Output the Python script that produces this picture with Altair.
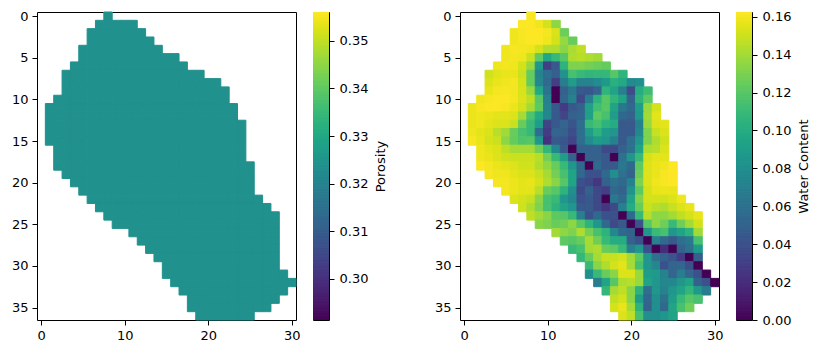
import altair as alt
import numpy as np
import pandas as pd

ROW_START = [8,7,6,6,5,5,4,3,3,3,2,1,1,1,1,1,2,2,2,3,4,5,6,7,8,9,11,12,13,14,15,15,16,17,18,18,19]

R00 = [.161]
R01 = [.162,.162,.159,.152,.135]
R02 = [.159,.161,.1625,.1625,.16,.153,.126]
R03 = [.159,.161,.162,.162,.159,.152,.137,.125]
R04 = [.159,.161,.16,.159,.152,.144,.143,.134,.142,.147]
R05 = [.159,.16,.159,.15,.123,.097,.11,.12,.143,.145,.143,.14]
R06 = [.159,.16,.159,.152,.138,.085,.03,.045,.105,.131,.131,.128,.126,.124]
R07 = [.151,.155,.157,.157,.15,.124,.072,.058,.048,.082,.115,.11,.107,.108,.108,.12,.106]
R08 = [.154,.157,.159,.16,.152,.124,.075,.056,.03,.068,.09,.072,.072,.078,.088,.103,.098,.077,.08]
R09 = [.157,.16,.161,.16,.153,.138,.098,.062,0,.05,.065,.045,.043,.052,.106,.095,.07,.037,.1,.112]
R10 = [.159,.161,.162,.162,.16,.154,.147,.12,.07,0,.052,.07,.035,.068,.105,.12,.107,.095,.05,.105,.122]
R11 = [.158,.161,.162,.162,.161,.158,.152,.141,.122,.073,.045,.028,.045,.05,.093,.113,.12,.095,.065,.055,.09,.138,.152]
R12 = [.158,.159,.158,.156,.156,.154,.141,.117,.098,.075,.045,.033,.05,.052,.092,.122,.115,.09,.055,.05,.088,.14,.156]
R13 = [.158,.159,.156,.154,.154,.149,.125,.11,.09,.032,.045,.052,.042,.058,.11,.115,.105,.1,.045,.045,.07,.138,.154,.156]
R14 = [.159,.156,.154,.145,.14,.125,.115,.11,.058,.028,.052,.05,.038,.058,.09,.105,.09,.085,.045,.045,.075,.131,.149,.154]
R15 = [.161,.157,.152,.15,.135,.124,.118,.12,.085,.022,.045,.043,.033,.058,.078,.09,.085,.07,.045,.06,.085,.131,.143,.151]
R16 = [.159,.156,.154,.147,.141,.141,.141,.127,.108,.075,.045,0,.05,.05,.05,.035,.035,.05,.06,.095,.143,.145,.154]
R17 = [.159,.157,.154,.151,.15,.15,.15,.145,.128,.11,.09,.05,0,.05,.05,.045,0,.06,.085,.11,.152,.156,.156]
R18 = [.162,.16,.158,.156,.154,.151,.151,.143,.135,.125,.11,.085,.055,0,.055,.045,.045,.065,.055,.122,.154,.157,.159,.1625]
R19 = [.161,.159,.159,.156,.154,.154,.149,.141,.128,.115,.095,.055,.04,.04,.055,.08,.06,.05,.125,.154,.157,.161,.1625]
R20 = [.16,.16,.158,.156,.157,.152,.143,.134,.12,.095,.04,.035,.025,.05,.06,.055,.07,.131,.154,.159,.161,.1625]
R21 = [.16,.158,.156,.156,.145,.125,.12,.105,.08,.035,.05,.035,.03,.055,.05,.082,.122,.152,.157,.158,.157]
R22 = [.154,.152,.149,.134,.115,.11,.085,.075,.04,.045,.035,0,.065,.055,.095,.131,.152,.152,.151,.154,.159]
R23 = [.151,.143,.131,.115,.105,.095,.085,.045,.045,.035,.025,.035,.07,.1,.125,.15,.145,.143,.149,.154,.157]
R24 = [.147,.14,.134,.122,.12,.11,.07,.04,.055,.04,.04,0,.055,.11,.145,.135,.135,.14,.147,.152,.157]
R25 = [.134,.131,.125,.127,.135,.12,.105,.085,.055,.035,.045,0,.04,.12,.135,.127,.11,.127,.14,.151]
R26 = [.14,.135,.131,.143,.128,.115,.105,.075,.055,.05,0,.085,.11,.115,.085,.095,.105,.14]
R27 = [.122,.12,.125,.141,.127,.11,.1,.1,.05,.04,0,.07,.055,.045,.058,.065,.115]
R28 = [.11,.115,.14,.143,.125,.122,.11,.07,.085,.04,0,.02,0,.05,.06,.088]
R29 = [.108,.125,.141,.149,.149,.152,.14,.122,.085,.06,.05,.042,.028,0,.048]
R30 = [.11,.134,.143,.152,.156,.141,.115,.085,.075,.04,.053,.053,.04,0]
R31 = [.08,.11,.125,.134,.154,.154,.138,.09,.088,.072,.052,.068,.052,.04,0]
R32 = [.068,.095,.12,.143,.145,.138,.095,.085,.075,.075,.085,.095,.05,.04,0]
R33 = [.108,.141,.147,.134,.105,.058,.085,.072,.085,.095,.107,.088,.067]
R34 = [.147,.152,.134,.09,.053,.08,.06,.09,.11,.12,.115]
R35 = [.152,.157,.141,.105,.05,.08,.055,.095,.115,.127]
R36 = [.154,.147,.115,.08,.08,.085,.095]

WATER = [R00,R01,R02,R03,R04,R05,R06,R07,R08,R09,R10,R11,R12,R13,R14,R15,R16,R17,R18,
         R19,R20,R21,R22,R23,R24,R25,R26,R27,R28,R29,R30,R31,R32,R33,R34,R35,R36]
POROSITY_VALUE = 0.3237
POROSITY_DOMAIN = [0.29133, 0.35607]
WATER_DOMAIN = [0.0, 0.1625]
X_TICKS = [0, 10, 20, 30]
Y_TICKS = [0, 5, 10, 15, 20, 25, 30, 35]
POROSITY_TICKS = [0.30, 0.31, 0.32, 0.33, 0.34, 0.35]
WATER_TICKS = [0.00, 0.02, 0.04, 0.06, 0.08, 0.10, 0.12, 0.14, 0.16]

recs = []
for r, vals in enumerate(WATER):
    for i, v in enumerate(vals):
        recs.append(dict(col=ROW_START[r] + i, row=r, water=v, porosity=POROSITY_VALUE))
df = pd.DataFrame(recs)

FONT = "DejaVu Sans"
FS = 13
W, H = 259, 308
CBW = 16
GAP = 17
SPACER = 97


def heat(field, domain):
    scale = alt.Scale(scheme="viridis", domain=domain)
    return (
        alt.Chart(df)
        .transform_calculate(x0="datum.col-0.5", x1="datum.col+0.5", y0="datum.row-0.5", y1="datum.row+0.5")
        .mark_rect(strokeWidth=1, opacity=1)
        .encode(
            x=alt.X("x0:Q", title=None, scale=alt.Scale(domain=[-0.5, 30.5], nice=False, zero=False),
                    axis=alt.Axis(values=X_TICKS, grid=False, domain=False, tickColor="black", format="d",
                                  tickSize=5, labelPadding=4, labelFont=FONT, labelFontSize=FS,
                                  labelColor="black", labelFlush=False, labelOverlap=False)),
            x2="x1:Q",
            y=alt.Y("y0:Q", title=None, scale=alt.Scale(domain=[36.5, -0.5], nice=False, zero=False),
                    axis=alt.Axis(values=Y_TICKS, grid=False, domain=False, tickColor="black", format="d",
                                  tickSize=5, labelPadding=4, labelFont=FONT, labelFontSize=FS,
                                  labelColor="black", labelOverlap=False)),
            y2="y1:Q",
            color=alt.Color(f"{field}:Q", scale=scale, legend=None),
            stroke=alt.Stroke(f"{field}:Q", scale=scale, legend=None),
        )
        .properties(width=W, height=H)
    )


def cbar(domain, ticks, title, fmt):
    scale = alt.Scale(scheme="viridis", domain=domain)
    vals = np.linspace(domain[0], domain[1], 257)
    bar = pd.DataFrame({"lo": vals[:-1], "hi": vals[1:], "mid": (vals[:-1] + vals[1:]) / 2})
    return (
        alt.Chart(bar)
        .mark_rect(strokeWidth=1, clip=True, opacity=1)
        .encode(
            x=alt.value(0),
            x2=alt.value(CBW),
            y=alt.Y("lo:Q", title=title, scale=alt.Scale(domain=domain, nice=False, zero=False),
                    axis=alt.Axis(orient="right", values=ticks, format=fmt, grid=False, domain=False,
                                  tickColor="black", tickSize=5, labelPadding=5, labelFont=FONT,
                                  labelFontSize=FS, labelColor="black", labelOverlap=False,
                                  titleFont=FONT, titleFontSize=FS, titleFontWeight="normal",
                                  titleColor="black", titleAngle=270, titleBaseline="top", titlePadding=7)),
            y2="hi:Q",
            color=alt.Color("mid:Q", scale=scale, legend=None),
            stroke=alt.Stroke("mid:Q", scale=scale, legend=None),
        )
        .properties(width=CBW, height=H)
    )


spacer = (
    alt.Chart(pd.DataFrame({"a": [0]}))
    .mark_point(opacity=0)
    .encode(x=alt.value(0), y=alt.value(0))
    .properties(width=SPACER, height=H, view=alt.ViewConfig(stroke=None, fill=None))
)

chart = (
    alt.hconcat(
        heat("porosity", POROSITY_DOMAIN),
        cbar(POROSITY_DOMAIN, POROSITY_TICKS, "Porosity", ".2f"),
        spacer,
        heat("water", WATER_DOMAIN),
        cbar(WATER_DOMAIN, WATER_TICKS, "Water Content", ".2f"),
        spacing=GAP,
        bounds="flush",
    )
    .resolve_scale(color="independent", stroke="independent", x="independent", y="independent")
    .properties(padding={"left": 2, "top": 1, "right": 0, "bottom": 0}, background="white")
    .configure_view(stroke="black", strokeWidth=1)
    .configure_axis(tickWidth=1)
)
chart.save("out.html", embed_options={"renderer": "svg", "actions": False})
